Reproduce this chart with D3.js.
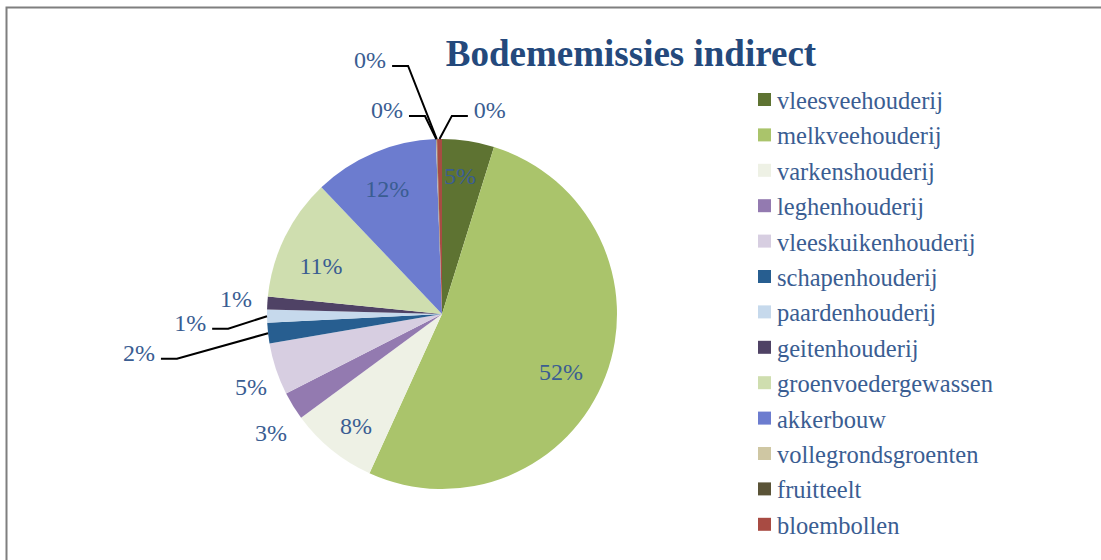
<!DOCTYPE html>
<html>
<head>
<meta charset="utf-8">
<script src="https://cdn.jsdelivr.net/npm/d3@7"></script>
<style>
  html, body { margin: 0; padding: 0; background: #fff; }
  svg { display: block; }
</style>
</head>
<body>
<svg id="chart" width="1101" height="560"></svg>
<script>
// ---- data ----
const categories = ["vleesveehouderij", "melkveehouderij", "varkenshouderij", "leghenhouderij",
  "vleeskuikenhouderij", "schapenhouderij", "paardenhouderij", "geitenhouderij",
  "groenvoedergewassen", "akkerbouw", "vollegrondsgroenten", "fruitteelt", "bloembollen"];
const values = [4.8, 52.0, 8.1, 2.6, 4.8, 1.9, 1.2, 1.2, 11.3, 11.55, 0.05, 0.05, 0.45];
const title = "Bodememissies indirect";

// ---- styles ----
const colors = ["#5E7332", "#AAC46B", "#EEF1E5", "#937AB0", "#D7CEE1", "#275E90", "#C6D9EC",
  "#4F4265", "#CFDEAF", "#6C7CCF", "#CFC7A3", "#5A5337", "#A84B43"];
// label placement: [angle in degrees (clockwise from top), radius factor], leader line flag
const labelPolar = [[7.4, 0.80], [116, 0.757], [217.5, 0.807], [235.2, 1.19], [249.1, 1.169],
  [262.7, 1.746], [268, 1.44], [274.4, 1.18], [291.6, 0.744], [336.3, 0.78],
  [344.9, 1.207], [344.2, 1.509], [13.2, 1.198]];
const leader = [false, false, false, false, false, true, true, false, false, false, true, true, true];

const svg = d3.select("#chart");
const textColor = "#3A5D92";
const font = "'Liberation Serif', 'Times New Roman', serif";

// frame
svg.append("path")
  .attr("d", "M6.5,1101 V7.5 H1101")
  .attr("fill", "none").attr("stroke", "#7f7f7f").attr("stroke-width", 2);

// title
svg.append("text")
  .attr("x", 631).attr("y", 66)
  .attr("text-anchor", "middle")
  .attr("font-family", font).attr("font-weight", "bold").attr("font-size", 37)
  .attr("fill", "#24497C")
  .text(title);

// pie
const cx = 442, cy = 314, R = 175;
const g = svg.append("g").attr("transform", `translate(${cx},${cy})`);
const pie = d3.pie().sort(null).value(d => d)(values);
const arc = d3.arc().innerRadius(0).outerRadius(R);

g.selectAll("path.slice").data(pie).enter().append("path")
  .attr("class", "slice")
  .attr("d", arc)
  .attr("fill", (d, i) => colors[i]);

const pct = d3.format(".0f");
const total = d3.sum(values);
const rad = a => a * Math.PI / 180;

pie.forEach((d, i) => {
  const [ang, k] = labelPolar[i];
  const lx = Math.sin(rad(ang)) * R * k;
  const ly = -Math.cos(rad(ang)) * R * k;
  const t = g.append("text")
    .attr("x", lx).attr("y", ly)
    .attr("dy", "0.35em")
    .attr("text-anchor", "middle")
    .attr("font-family", font).attr("font-size", 24)
    .attr("fill", textColor)
    .text(pct(d.value / total * 100) + "%");
  if (leader[i]) {
    const w = t.node().getComputedTextLength();
    const mid = (d.startAngle + d.endAngle) / 2;
    const ax = Math.sin(mid) * R, ay = -Math.cos(mid) * R;
    const side = lx < ax ? 1 : -1;
    const x0 = lx + side * (w / 2 + 6);
    const x1 = x0 + side * 16;
    const yl = ly + 6;
    g.append("path")
      .attr("d", `M${x0},${yl} H${x1} L${ax},${ay}`)
      .attr("fill", "none").attr("stroke", "#000").attr("stroke-width", 2);
  }
});

// legend
const lg = svg.append("g").attr("transform", "translate(758,93)");
const rows = lg.selectAll("g").data(categories).enter().append("g")
  .attr("transform", (d, i) => `translate(0,${i * 35.4})`);
rows.append("rect").attr("width", 13).attr("height", 13).attr("fill", (d, i) => colors[i]);
rows.append("text")
  .attr("x", 19).attr("y", 16)
  .attr("font-family", font).attr("font-size", 24.5)
  .attr("fill", textColor)
  .text(d => d);
</script>
</body>
</html>
